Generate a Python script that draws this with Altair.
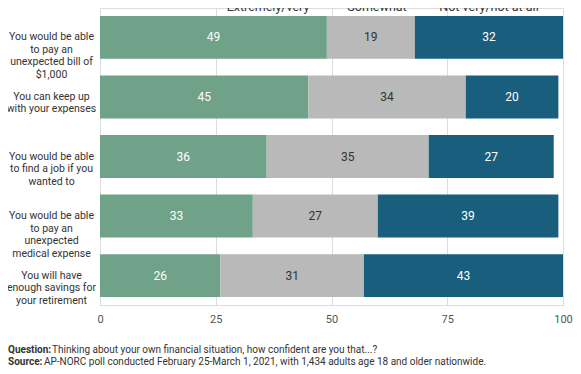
import altair as alt
import pandas as pd

questions = [
    "You would be able|to pay an|unexpected bill of|$1,000",
    "You can keep up|with your expenses",
    "You would be able|to find a job if you|wanted to",
    "You would be able|to pay an|unexpected|medical expense",
    "You will have|enough savings for|your retirement",
]
responses = ["Extremely/very", "Somewhat", "Not very/not at all"]
extremely = [49, 45, 36, 33, 26]
somewhat = [19, 34, 35, 27, 31]
notvery = [32, 20, 27, 39, 43]
colors = ["#6fa288", "#b9b9b9", "#195e7c"]
x_ticks = [0, 25, 50, 75, 100]
footer_q_bold = "Question:"
footer_q = "Thinking about your own financial situation, how confident are you that...?"
footer_s_bold = "Source:"
footer_s = "AP-NORC poll conducted February 25-March 1, 2021, with 1,434 adults age 18 and older nationwide."

rows = []
for i, q in enumerate(questions):
    for j, (r, vals) in enumerate(zip(responses, [extremely, somewhat, notvery])):
        rows.append({"q": q, "r": r, "value": vals[i], "order": j})
df = pd.DataFrame(rows)

FONT = "Roboto"

base = alt.Chart(df).transform_stack(
    stack="value", groupby=["q"], as_=["x0", "x1"],
    sort=[alt.SortField("order", order="ascending")]
).transform_calculate(mid="(datum.x0 + datum.x1) / 2")

xscale = alt.Scale(domain=[0, 100], nice=False)
yscale = alt.Scale(paddingInner=0.28, paddingOuter=0.134)

bars = base.mark_bar().encode(
    x=alt.X("x0:Q", scale=xscale, title=None,
            axis=alt.Axis(values=x_ticks, grid=True, gridColor="#dcdcdc",
                          domain=True, domainColor="#dcdcdc", ticks=False, tickSize=0,
                          labelPadding=8, labelFontSize=11, labelColor="#555555",
                          labelFont=FONT, labelFlush=False)),
    x2="x1:Q",
    y=alt.Y("q:N", sort=questions, scale=yscale, title=None,
            axis=alt.Axis(labelExpr="split(datum.label, '|')", labelAlign="center",
                          labelBaseline="middle", labelPadding=49, ticks=False, tickSize=0,
                          domain=False, labelFontSize=10.5, labelLineHeight=12.5,
                          labelColor="#333333", labelFont=FONT, labelLimit=200)),
    color=alt.Color("r:N", scale=alt.Scale(domain=responses, range=colors), legend=None),
)

labels = base.mark_text(fontSize=12, font=FONT, baseline="middle", align="center").encode(
    x=alt.X("mid:Q", scale=xscale),
    y=alt.Y("q:N", sort=questions, scale=yscale),
    text=alt.Text("value:Q"),
    color=alt.condition(alt.datum.r == "Somewhat", alt.value("#333333"), alt.value("#ffffff")),
)

layers = [bars, labels]

legend_x = [168, 277, 389]
for name, px in zip(responses, legend_x):
    layers.append(
        alt.Chart(pd.DataFrame({"t": [name]})).mark_text(
            fontSize=12.5, font=FONT, color="#333333", align="center", baseline="alphabetic"
        ).encode(text="t:N", x=alt.value(px), y=alt.value(3))
    )

footer_specs = [
    (footer_q_bold, -92, 345, "bold"),
    (footer_q, -48, 345, "normal"),
    (footer_s_bold, -92, 357, "bold"),
    (footer_s, -56, 357, "normal"),
]
for t, px, py, fw in footer_specs:
    layers.append(
        alt.Chart(pd.DataFrame({"t": [t]})).mark_text(
            fontSize=10, font=FONT, color="#333333", align="left", baseline="alphabetic",
            fontWeight=fw
        ).encode(text="t:N", x=alt.value(px), y=alt.value(py))
    )

chart = alt.layer(*layers).properties(
    width=463, height=297,
    autosize=alt.AutoSizeParams(type="none"),
    padding={"left": 92, "top": 0, "right": 10, "bottom": 63},
).configure_view(stroke=None).configure(font=FONT)

chart.save("out.html", embed_options={"renderer": "svg", "actions": False})
